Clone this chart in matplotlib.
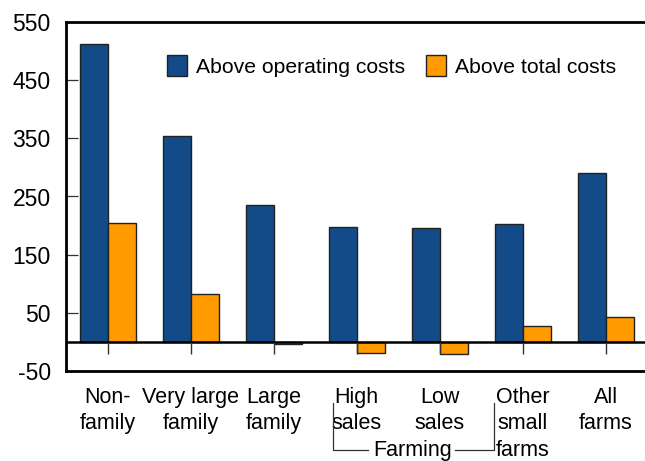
import matplotlib
matplotlib.use("Agg")
import matplotlib.pyplot as plt
from matplotlib.transforms import blended_transform_factory
import numpy as np

plt.rcParams['font.family'] = ['Liberation Sans', 'DejaVu Sans']

categories = ["Non-\nfamily", "Very large\nfamily", "Large\nfamily", "High\nsales",
              "Low\nsales", "Other\nsmall\nfarms", "All\nfarms"]
above_operating = [512, 354, 235, 197, 196, 203, 290]
above_total = [204, 82, -3, -19, -21, 27, 43]
series_names = ["Above operating costs", "Above total costs"]
yticks = [-50, 50, 150, 250, 350, 450, 550]
group_label = "Farming"

blue = "#134a88"
orange = "#ff9a00"
edge = "#222222"

fig = plt.figure(figsize=(6.45, 4.61), dpi=100)
ax = fig.add_axes([66/645, 90/461, (647.5-66)/645, 349/461])

x = np.arange(len(categories))
w = 0.337
ax.bar(x - w/2, above_operating, w, color=blue, edgecolor=edge, linewidth=1.0,
       label=series_names[0], zorder=2)
ax.bar(x + w/2, above_total, w, color=orange, edgecolor=edge, linewidth=1.0,
       label=series_names[1], zorder=2)

ax.set_xlim(-0.5, 6.5)
ax.set_ylim(-50, 550)
ax.axhline(0, color="black", linewidth=1.8, zorder=3)
ax.vlines(x, -20, 0, color="#333333", linewidth=1.0, zorder=3)

ax.spines['right'].set_visible(False)
for s in ['left', 'top', 'bottom']:
    ax.spines[s].set_linewidth(2.0)
    ax.spines[s].set_color("black")

ax.set_yticks(yticks)
ax.set_yticklabels([str(v) for v in yticks])
ax.tick_params(axis='y', direction='in', length=8.6, width=0.9, color="#333333",
               labelsize=16.5, pad=11)
ax.set_xticks(x)
ax.set_xticklabels(categories, fontsize=15.5, linespacing=1.34)
ax.tick_params(axis='x', length=0, pad=11.5)

leg = ax.legend(loc='center left', bbox_to_anchor=(167/645, 1 - 66/461),
                bbox_transform=fig.transFigure, ncol=2, frameon=False,
                prop={'size': 15.2}, handlelength=0.96, handleheight=1.1,
                handletextpad=0.43, columnspacing=0.96, borderpad=0,
                borderaxespad=0)

# Farming bracket
tr = blended_transform_factory(ax.transData, fig.transFigure)
y_top = 1 - 403/461
y_bot = 1 - 450/461
lc = "#333333"
ax.plot([2.71, 2.71, 3.136], [y_top, y_bot, y_bot], transform=tr, color=lc,
        linewidth=0.9, clip_on=False)
ax.plot([4.184, 4.655, 4.655], [y_bot, y_bot, y_top], transform=tr, color=lc,
        linewidth=0.9, clip_on=False)
ax.text(3.672, 1 - 456/461, group_label, transform=tr, ha='center', va='baseline',
        fontsize=15.5, clip_on=False)

fig.savefig("out.png", dpi=100)
